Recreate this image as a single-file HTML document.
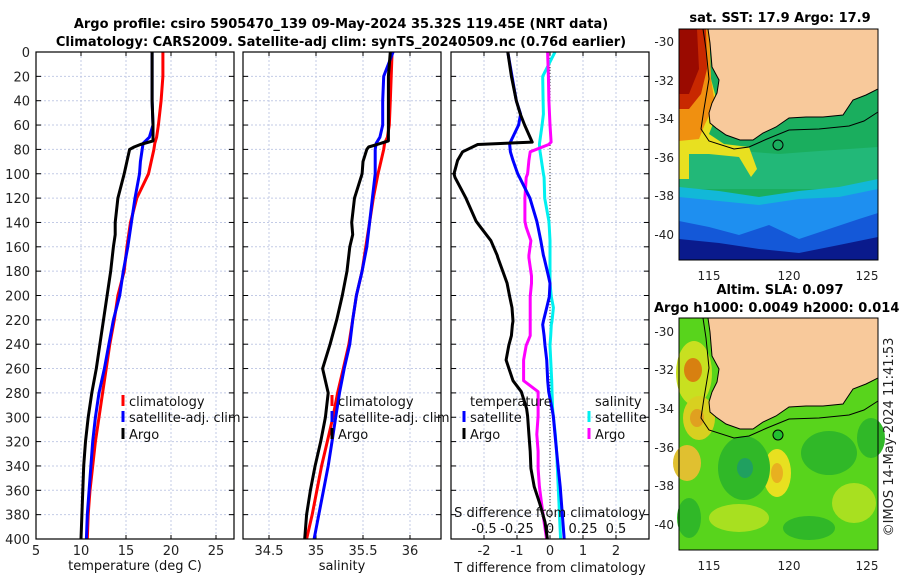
<!DOCTYPE html>
<html><head><meta charset="utf-8">
<style>
html,body{margin:0;padding:0;background:#fff;}
svg{display:block;font-family:"DejaVu Sans","Liberation Sans",sans-serif;}
</style></head>
<body>
<svg id="c" width="900" height="580" viewBox="0 0 900 580" xmlns="http://www.w3.org/2000/svg">
<text x="341" y="28" text-anchor="middle" font-size="13" font-weight="bold">Argo profile: csiro 5905470_139 09-May-2024 35.32S 119.45E (NRT data)</text>
<text x="341" y="46" text-anchor="middle" font-size="13" font-weight="bold">Climatology: CARS2009. Satellite-adj clim: synTS_20240509.nc (0.76d earlier)</text>
<g id="plots"></g>
<!-- SST map -->
<text x="780" y="22" text-anchor="middle" font-size="13" font-weight="bold">sat. SST: 17.9 Argo: 17.9</text>
<g transform="translate(679,29)">
  <rect x="0" y="0" width="199" height="231" fill="#1aae5e"/>
  <path d="M0 118 L30 120 L60 122 L100 125 L140 122 L199 118 L199 160 L0 160Z" fill="#22b878"/>
  <path d="M0 158 L40 162 L80 168 L120 162 L160 158 L199 150 L199 231 L0 231Z" fill="#12b8d8"/>
  <path d="M0 168 L40 172 L80 176 L120 170 L160 168 L199 160 L199 231 L0 231Z" fill="#1e8ff0"/>
  <path d="M0 192 L30 198 L60 206 L90 196 L120 210 L150 200 L180 190 L199 184 L199 231 L0 231Z" fill="#1458d8"/>
  <path d="M0 210 L40 214 L80 220 L120 224 L160 216 L199 208 L199 231 L0 231Z" fill="#0a1a8c"/>
  <path d="M0 0 L30 0 L32 50 L40 80 L30 105 L45 115 L70 118 L78 140 L72 148 L60 128 L30 125 L10 125 L10 150 L0 150Z" fill="#e8e020"/>
  <path d="M0 0 L30 0 L32 50 L36 75 L26 95 L20 110 L0 112Z" fill="#f09010"/>
  <path d="M0 0 L27 0 L28 40 L22 65 L10 80 L0 80Z" fill="#c82800"/>
  <path d="M0 0 L18 0 L20 40 L10 65 L0 65Z" fill="#9a0a00"/>
  <path d="M29 0 L31 14 L33 38 L40 51 L38 64 L33 74 L30 84 L31 94 L37 99 L47 106 L61 111 L74 111 L84 104 L97 98 L110 89 L127 88 L144 88 L164 86 L174 71 L187 66 L199 60 L199 0Z" fill="#f8c99b" stroke="#000" stroke-width="1"/>
  <path d="M24 0 L27 20 L30 50 L25 80 L22 100 L30 112 L55 120 L70 118 L88 110 L110 101 L140 100 L170 97 L185 92 L199 83" fill="none" stroke="#000" stroke-width="1"/>
  <circle cx="99" cy="116" r="5" fill="none" stroke="#000" stroke-width="1"/>
  <rect x="0" y="0" width="199" height="231" fill="none" stroke="#000" stroke-width="1"/>
</g>
<g font-size="12" fill="#222">
  <text x="674" y="46" text-anchor="end">-30</text><text x="674" y="85" text-anchor="end">-32</text>
  <text x="674" y="123" text-anchor="end">-34</text><text x="674" y="162" text-anchor="end">-36</text>
  <text x="674" y="200" text-anchor="end">-38</text><text x="674" y="239" text-anchor="end">-40</text>
  <text x="709" y="280" text-anchor="middle">115</text><text x="789" y="280" text-anchor="middle">120</text><text x="867" y="280" text-anchor="middle">125</text>
</g>
<!-- SLA map -->
<text x="780" y="294" text-anchor="middle" font-size="13" font-weight="bold">Altim. SLA: 0.097</text>
<text x="654" y="312" font-size="13" font-weight="bold">Argo h1000: 0.0049 h2000: 0.014</text>
<g transform="translate(679,318)">
  <rect x="0" y="0" width="199" height="232" fill="#58d41c"/>
  <ellipse cx="15" cy="55" rx="18" ry="32" fill="#c8e020"/>
  <ellipse cx="14" cy="52" rx="9" ry="12" fill="#d88010"/>
  <ellipse cx="20" cy="100" rx="16" ry="22" fill="#d8d020"/>
  <ellipse cx="18" cy="100" rx="7" ry="9" fill="#e0a020"/>
  <ellipse cx="8" cy="145" rx="14" ry="18" fill="#e0c030"/>
  <ellipse cx="98" cy="155" rx="14" ry="24" fill="#e8e020"/>
  <ellipse cx="98" cy="155" rx="6" ry="10" fill="#e8b020"/>
  <ellipse cx="65" cy="150" rx="26" ry="32" fill="#30b828"/>
  <ellipse cx="66" cy="150" rx="8" ry="10" fill="#20a060"/>
  <ellipse cx="150" cy="135" rx="28" ry="22" fill="#30b828"/>
  <ellipse cx="175" cy="185" rx="22" ry="20" fill="#a8e020"/>
  <ellipse cx="60" cy="200" rx="30" ry="14" fill="#a8e020"/>
  <ellipse cx="130" cy="210" rx="26" ry="12" fill="#30b828"/>
  <ellipse cx="192" cy="120" rx="14" ry="20" fill="#30b828"/>
  <ellipse cx="10" cy="200" rx="12" ry="20" fill="#30b828"/>
  <path d="M29 0 L31 14 L33 38 L40 51 L38 64 L33 74 L30 84 L31 94 L37 99 L47 106 L61 111 L74 111 L84 104 L97 98 L110 89 L127 88 L144 88 L164 86 L174 71 L187 66 L199 60 L199 0Z" fill="#f8c99b" stroke="#000" stroke-width="1"/>
  <path d="M24 0 L27 20 L30 50 L25 80 L22 100 L30 112 L55 120 L70 118 L88 110 L110 101 L140 100 L170 97 L185 92 L199 83" fill="none" stroke="#000" stroke-width="1"/>
  <circle cx="99" cy="117" r="5" fill="#22c030" stroke="#000" stroke-width="1"/>
  <rect x="0" y="0" width="199" height="232" fill="none" stroke="#000" stroke-width="1"/>
</g>
<g font-size="12" fill="#222">
  <text x="674" y="336" text-anchor="end">-30</text><text x="674" y="374" text-anchor="end">-32</text>
  <text x="674" y="413" text-anchor="end">-34</text><text x="674" y="452" text-anchor="end">-36</text>
  <text x="674" y="490" text-anchor="end">-38</text><text x="674" y="529" text-anchor="end">-40</text>
  <text x="709" y="570" text-anchor="middle">115</text><text x="789" y="570" text-anchor="middle">120</text><text x="867" y="570" text-anchor="middle">125</text>
</g>
<text transform="translate(893,437) rotate(-90)" text-anchor="middle" font-size="13" fill="#222">©IMOS 14-May-2024 11:41:53</text>
</svg>
<script>
// ---- data (depth in dbar) ----
var tDepth = [0,20,40,60,70,75,80,90,100,120,140,160,180,200,220,240,260,280,300,320,340,360,380,400];
var tClim  = [19.1,19.1,18.9,18.6,18.4,18.2,18.1,17.8,17.5,16.2,15.5,15.1,14.8,14.1,13.7,13.2,12.8,12.4,12.0,11.6,11.3,11.0,10.8,10.7];
var tSat   = [17.9,17.9,17.9,18.0,17.6,16.9,16.8,16.6,16.5,16.0,15.6,15.2,14.7,14.3,13.6,13.1,12.6,12.0,11.6,11.3,11.1,10.9,10.7,10.6];
var argoDepth = [0,20,40,60,73,76,78,80,90,100,120,140,150,160,180,200,220,240,260,280,300,320,340,360,380,400];
var tArgo = [17.9,17.9,17.9,18.0,18.0,16.6,15.9,15.4,15.1,14.8,14.1,13.8,13.8,13.6,13.3,12.9,12.5,12.1,11.7,11.2,10.8,10.5,10.3,10.2,10.1,10.0];
var sClim = [35.81,35.80,35.79,35.78,35.76,35.73,35.72,35.69,35.66,35.61,35.57,35.53,35.49,35.43,35.39,35.35,35.29,35.23,35.18,35.12,35.06,35.01,34.96,34.90];
var sSat  = [35.82,35.72,35.71,35.71,35.68,35.64,35.63,35.63,35.63,35.60,35.57,35.54,35.49,35.43,35.39,35.36,35.30,35.25,35.21,35.17,35.13,35.08,35.03,34.98];
var sArgo = [35.79,35.77,35.77,35.77,35.77,35.65,35.56,35.54,35.50,35.49,35.41,35.38,35.39,35.36,35.33,35.28,35.22,35.15,35.07,35.13,35.10,35.05,34.99,34.94,34.90,34.88];
var dDepth  = [0,20,40,51,60,74,76,82,89,100,103,120,139,144,155,167,169,184,190,201,210,221,224,233,241,253,270,279,293,299,314,328,342,357,371,386,400];
var dTArgo  = [-1.28,-1.17,-1.02,-0.9,-0.77,-0.54,-2.19,-2.65,-2.8,-2.91,-2.88,-2.55,-2.24,-2.1,-1.79,-1.6,-1.58,-1.38,-1.3,-1.22,-1.15,-1.12,-1.14,-1.17,-1.25,-1.33,-1.12,-0.87,-0.71,-0.68,-0.64,-0.6,-0.58,-0.48,-0.31,-0.15,-0.08];
var dTSat   = [-1.28,-1.15,-1.02,-0.89,-0.95,-1.2,-1.22,-1.2,-1.12,-0.98,-0.92,-0.61,-0.4,-0.36,-0.28,-0.2,-0.18,-0.05,0,-0.02,-0.1,-0.2,-0.22,-0.18,-0.15,-0.1,-0.07,-0.04,0.06,0.1,0.15,0.2,0.25,0.31,0.35,0.39,0.43];
var dSArgo  = [-0.018,-0.012,-0.008,-0.004,0.0,0.008,-0.01,-0.15,-0.16,-0.17,-0.18,-0.19,-0.19,-0.18,-0.145,-0.16,-0.16,-0.14,-0.14,-0.15,-0.15,-0.15,-0.15,-0.15,-0.18,-0.2,-0.2,-0.09,-0.09,-0.09,-0.1,-0.09,-0.09,-0.08,-0.064,-0.045,-0.026];
var dSSat   = [0.038,-0.055,-0.052,-0.05,-0.06,-0.078,-0.08,-0.075,-0.065,-0.05,-0.045,-0.04,-0.008,-0.005,0,0,0,0,0,0.01,0.026,0.015,0.01,0.005,0,0.005,0.013,0.015,0.02,0.025,0.04,0.05,0.056,0.062,0.068,0.074,0.08];
var depthTicks = [0,20,40,60,80,100,120,140,160,180,200,220,240,260,280,300,320,340,360,380,400];
var tTicks = [5,10,15,20,25];
var sTicks = [34.5,35,35.5,36];
var dTTicks = [-2,-1,0,1,2];
var dTTickLabels = ["-2","-1","0","1","2"];
var dSTicks = [-0.5,-0.25,0,0.25,0.5];
var dSTickLabels = ["-0.5","-0.25","0","0.25","0.5"];

var NS="http://www.w3.org/2000/svg";
var root=document.getElementById('plots');
function el(tag,attrs,parent){var e=document.createElementNS(NS,tag);for(var k in attrs)e.setAttribute(k,attrs[k]);(parent||root).appendChild(e);return e;}
var Y0=52,Y1=539;
function yScale(d){return Y0+d/400*(Y1-Y0);}
function mkX(x0,x1,v0,v1){return function(v){return x0+(v-v0)/(v1-v0)*(x1-x0);};}

function panel(name,x0,x1,xs,ticks,labels,leftLabels){
  var g=el('g',{});
  
  
  ticks.forEach(function(t){var x=xs(t);
    var l=el('line',{x1:x,x2:x,y1:Y0,y2:Y1,stroke:'#c3cbe6','stroke-dasharray':'2,2','stroke-width':1},g);
    
    
    el('line',{x1:x,x2:x,y1:Y1,y2:Y1-4,stroke:'#000'},g);
    el('line',{x1:x,x2:x,y1:Y0,y2:Y0+4,stroke:'#000'},g);
  });
  depthTicks.forEach(function(d){var y=yScale(d);
    var l=el('line',{x1:x0,x2:x1,y1:y,y2:y,stroke:'#c3cbe6','stroke-dasharray':'2,2','stroke-width':1},g);
    
    
    el('line',{x1:x0,x2:x0+5,y1:y,y2:y,stroke:'#000'},g);
    el('line',{x1:x1,x2:x1-5,y1:y,y2:y,stroke:'#000'},g);
    if(leftLabels){var t=el('text',{x:x0-6,y:y+5,'text-anchor':'end','font-size':13,fill:'#222'},g);t.textContent=d;
      
      }
  });
  if(labels){ticks.forEach(function(t,i){var tx=el('text',{x:xs(t),y:555,'text-anchor':'middle','font-size':13,fill:'#222'},g);tx.textContent=labels[i];
    
    });}
  return g;
}
function line(g,xs,vals,depths,color,name,w){
  var p=vals.map(function(v,i){return xs(v).toFixed(1)+','+yScale(depths[i]).toFixed(1);}).join(' ');
  var l=el('polyline',{points:p,fill:'none',stroke:color,'stroke-width':w||3,'stroke-linejoin':'round'},g);
  
  
}
function txt(g,x,y,s,name,anchor,size){var t=el('text',{x:x,y:y,'font-size':size||13,fill:'#111','text-anchor':anchor||'start'},g);t.textContent=s;
  
  return t;}
function mark(g,x,y,c,name){var r=el('rect',{x:x-1.5,y:y-11,width:3,height:11,fill:c},g);
  
  }
function box(g,x0,x1){el('rect',{x:x0,y:Y0,width:x1-x0,height:Y1-Y0,fill:'none',stroke:'#000','stroke-width':1.2},g);}

// Temperature panel
var xT=mkX(36,234,5,27);
var g1=panel('temperature-panel',36,234,xT,tTicks,tTicks.map(String),true);
line(g1,xT,tClim,tDepth,'#ff0000','temperature-climatology-line');
line(g1,xT,tSat,tDepth,'#0000ff','temperature-satellite-line');
line(g1,xT,tArgo,argoDepth,'#000','temperature-argo-line');
box(g1,36,234);
txt(g1,135,570,'temperature (deg C)','temperature-axis-title','middle');
mark(g1,123,406,'#f00','legend-climatology-marker');txt(g1,129,406,'climatology','legend-climatology');
mark(g1,123,422,'#00f','legend-satellite-marker');txt(g1,129,422,'satellite-adj. clim','legend-satellite');
mark(g1,123,439,'#000','legend-argo-marker');txt(g1,129,439,'Argo','legend-argo');

// Salinity panel
var xS=mkX(243,441,34.5-26/94,34.5+172/94);
var g2=panel('salinity-panel',243,441,xS,sTicks,sTicks.map(String),false);
line(g2,xS,sClim,tDepth,'#ff0000','salinity-climatology-line');
line(g2,xS,sSat,tDepth,'#0000ff','salinity-satellite-line');
line(g2,xS,sArgo,argoDepth,'#000','salinity-argo-line');
box(g2,243,441);
txt(g2,342,570,'salinity','salinity-axis-title','middle');
mark(g2,332,406,'#f00','legend-climatology-marker');txt(g2,338,406,'climatology','legend-climatology');
mark(g2,332,422,'#00f','legend-satellite-marker');txt(g2,338,422,'satellite-adj. clim','legend-satellite');
mark(g2,332,439,'#000','legend-argo-marker');txt(g2,338,439,'Argo','legend-argo');

// Difference panel
var xD=mkX(451,649,-3,3);
var xDS=mkX(451,649,-0.75,0.75);
var g3=panel('difference-panel',451,649,xD,dTTicks,dTTickLabels,false);
var zl=el('line',{x1:xD(0),x2:xD(0),y1:Y0,y2:Y1,stroke:'#333','stroke-dasharray':'1,2'},g3);


line(g3,xDS,dSSat,dDepth,'#00f0f0','salinity-satellite-diff-line');
line(g3,xDS,dSArgo,dDepth,'#ff00ff','salinity-argo-diff-line');
line(g3,xD,dTSat,dDepth,'#0000ff','temperature-satellite-diff-line');
line(g3,xD,dTArgo,dDepth,'#000','temperature-argo-diff-line');
box(g3,451,649);
txt(g3,550,572,'T difference from climatology','t-diff-axis-title','middle');
txt(g3,550,517,'S difference from climatology','s-diff-axis-title','middle');
dSTicks.forEach(function(t,i){txt(g3,xDS(t),533,dSTickLabels[i],'s-diff-tick-label','middle');});
txt(g3,470,406,'temperature','legend-temperature-header');
mark(g3,464,422,'#00f','legend-t-satellite-marker');txt(g3,470,422,'satellite','legend-t-satellite');
mark(g3,464,439,'#000','legend-t-argo-marker');txt(g3,470,439,'Argo','legend-t-argo');
txt(g3,595,406,'salinity','legend-salinity-header');
mark(g3,589,422,'#00f0f0','legend-s-satellite-marker');txt(g3,595,422,'satellite','legend-s-satellite');
mark(g3,589,439,'#ff00ff','legend-s-argo-marker');txt(g3,595,439,'Argo','legend-s-argo');
</script>
</body></html>
